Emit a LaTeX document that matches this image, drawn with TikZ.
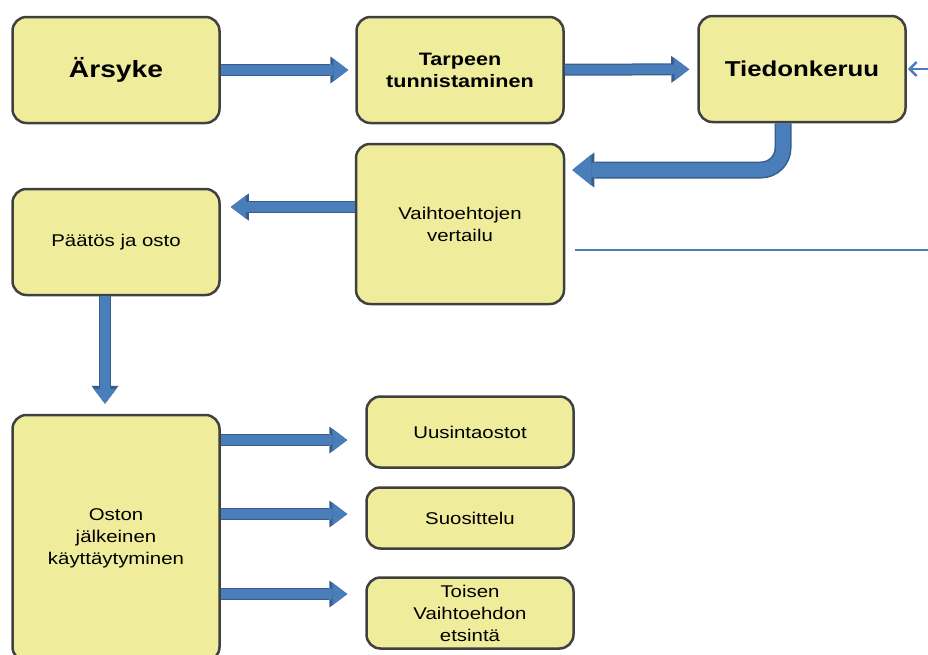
\documentclass[tikz,border=0pt]{standalone}
\usepackage{fontspec}
\setmainfont{Liberation Sans}[FakeStretch=1.2]
\usetikzlibrary{arrows.meta}
\definecolor{boxFill}{HTML}{EFEC9C}
\definecolor{boxBorder}{HTML}{404040}
\definecolor{arrowBlue}{HTML}{4A7EBB}
\definecolor{arrowBorder}{HTML}{385D8A}
\begin{document}
\begin{tikzpicture}
            [x=1pt, y=-1pt,
             myBox/.style={rectangle,
                        rounded corners=14pt,
                        draw=boxBorder,
                        fill=boxFill,
                        line width=2.5pt,
                        align=center,
                        inner sep=2pt,
                        minimum width=207pt},
             plainText/.style={font=\fontsize{17}{22}\selectfont},
             flowArrow/.style={line width=9.5pt, draw=arrowBlue,
                        -{Triangle[width=23pt,length=15pt,line width=0pt]},
                        preaction={draw=arrowBorder, line width=12pt,
                        -{Triangle[width=27pt,length=18pt,line width=0pt]}}},
             bigArrow/.style={line width=14pt, draw=arrowBlue, rounded corners=22pt,
                        -{Triangle[width=31pt,length=19pt,line width=0pt]},
                        preaction={draw=arrowBorder, line width=17pt,
                        -{Triangle[width=35pt,length=22pt,line width=0pt]}}},
             thinLine/.style={draw=arrowBlue, line width=2pt}]

            \clip (0,0) rectangle (928,654);

            \node[myBox, font=\bfseries\fontsize{23.5}{28}\selectfont, minimum height=106pt] (arsyke) at (116,70) {Ärsyke};
            \node[myBox, font=\bfseries\fontsize{18}{22}\selectfont, minimum height=106pt] (tarpeenTunnistaminen) at (460,70) {Tarpeen\\tunnistaminen};
            \node[myBox, font=\bfseries\fontsize{21.5}{26}\selectfont, minimum height=106pt] (tiedonkeruu) at (802,69) {Tiedonkeruu};
            \node[myBox, plainText, minimum width=208pt, minimum height=160pt] (vaihtoehtojenVertailu) at (460,224) {Vaihtoehtojen\\vertailu};
            \node[myBox, plainText, minimum height=106pt] (paatosJaOsto) at (116,242) {Päätös ja osto};
            \node[myBox, plainText, minimum height=246pt] (ostonJalkeinen) at (116,538) {Oston\\jälkeinen\\käyttäytyminen};
            \node[myBox, plainText, minimum height=71pt] (uusintaostot) at (470,432) {Uusintaostot};
            \node[myBox, plainText, minimum height=61pt] (suosittelu) at (470,518) {Suosittelu};
            \node[myBox, plainText, minimum height=71pt] (toisenVaihtoehdon) at (470,613) {Toisen\\Vaihtoehdon\\etsintä};

            \coordinate (rightEdge) at (928,69);
            \coordinate (lineStart) at (575,250);
            \coordinate (lineEnd) at (928,250);

            \draw [flowArrow, shorten >=7pt] (arsyke) to (tarpeenTunnistaminen);
            \draw [flowArrow, shorten >=8pt] (tarpeenTunnistaminen) to (tiedonkeruu);
            \draw [bigArrow, shorten >=7pt] ([xshift=-19pt]tiedonkeruu.south) |- ([yshift=54pt]vaihtoehtojenVertailu.east);
            \draw [flowArrow, shorten >=10pt] ([yshift=17pt]vaihtoehtojenVertailu.west) to ([yshift=17pt]vaihtoehtojenVertailu.west -| paatosJaOsto.east);
            \draw [flowArrow, shorten >=10pt] ([xshift=-11pt]paatosJaOsto.south) to ([xshift=-11pt]paatosJaOsto.south |- ostonJalkeinen.north);
            \draw [flowArrow, shorten >=18pt] ([yshift=-8pt]ostonJalkeinen.east |- uusintaostot.west) to ([yshift=-8pt]uusintaostot.west);
            \draw [flowArrow, shorten >=18pt] ([yshift=4pt]ostonJalkeinen.east |- suosittelu.west) to ([yshift=4pt]suosittelu.west);
            \draw [flowArrow, shorten >=18pt] ([yshift=19pt]ostonJalkeinen.east |- toisenVaihtoehdon.west) to ([yshift=19pt]toisenVaihtoehdon.west);

            \draw [thinLine, line width=2.6pt, -{Straight Barb[length=7pt,width=14pt]}, shorten >=1pt] (rightEdge) to (tiedonkeruu);
            \draw [thinLine] (lineStart) to (lineEnd);
        \end{tikzpicture}
\end{document}
